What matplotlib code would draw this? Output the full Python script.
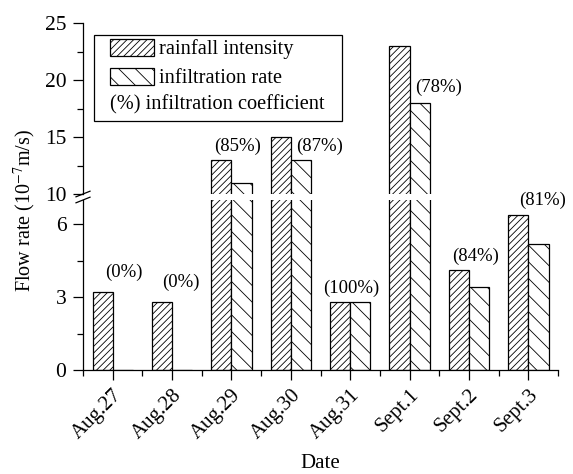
import matplotlib
matplotlib.use('Agg')
import matplotlib.pyplot as plt
from matplotlib.patches import Rectangle
from matplotlib.legend_handler import HandlerBase, HandlerPatch
from matplotlib.text import Text
import numpy as np

# ---------------- data ----------------
dates = ['Aug.27', 'Aug.28', 'Aug.29', 'Aug.30', 'Aug.31', 'Sept.1', 'Sept.2', 'Sept.3']
rainfall = [3.2, 2.8, 13.0, 15.0, 2.8, 23.0, 4.1, 6.4]
infiltration = [0.0, 0.0, 11.0, 13.0, 2.8, 18.0, 3.4, 5.2]
coef_labels = ['(0%)', '(0%)', '(85%)', '(87%)', '(100%)', '(78%)', '(84%)', '(81%)']
# which bar each coefficient label sits above (True -> infiltration bar)
label_on_infil = [False, False, False, True, False, True, False, False]
# label offsets in pixels (x, y) relative to the top-centre of that bar
label_dx = [21, 19, 16, 19, 11, 19, 17, 24]
label_dy = [20, 20, 13, 13, 14, 15, 14, 14]

plt.rcParams['font.family'] = ['Liberation Serif', 'DejaVu Serif']
plt.rcParams['mathtext.fontset'] = 'stix'
plt.rcParams['hatch.linewidth'] = 0.6
plt.rcParams['font.size'] = 15

W, H = 573, 474
fig = plt.figure(figsize=(W / 100, H / 100), dpi=100)
left_px, right_px = 83, 558
top_px, brk_top_px, brk_bot_px, bottom_px = 23, 194, 200, 370
ax_top = fig.add_axes([left_px / W, 1 - brk_top_px / H, (right_px - left_px) / W, (brk_top_px - top_px) / H])
ax_bot = fig.add_axes([left_px / W, 1 - bottom_px / H, (right_px - left_px) / W, (bottom_px - brk_bot_px) / H])

x = np.arange(len(dates))
w = 0.34
rain_hatch = '/////'
inf_hatch = '\\\\'
for ax in (ax_top, ax_bot):
    ax.bar(x - w / 2, rainfall, w, facecolor='white', edgecolor='black', hatch=rain_hatch, lw=0.9)
    ax.bar(x + w / 2, infiltration, w, facecolor='white', edgecolor='black', hatch=inf_hatch, lw=0.9)
    ax.set_xlim(-0.5, len(dates) - 0.5)
    ax.spines['top'].set_visible(False)
    ax.spines['right'].set_visible(False)
    ax.tick_params(axis='y', which='major', direction='out', length=7, width=0.9, pad=5, labelsize=15.5)
    ax.tick_params(axis='y', which='minor', direction='out', length=4, width=0.9)

ax_top.set_ylim(10, 25)
ax_top.set_yticks([10, 15, 20, 25])
ax_top.set_yticks([12.5, 17.5, 22.5], minor=True)
ax_top.spines['bottom'].set_visible(False)
ax_top.set_xticks([])
ax_top.set_xticks([], minor=True)

ax_bot.set_ylim(0, 7)
ax_bot.set_yticks([0, 3, 6])
ax_bot.set_yticks([1.5, 4.5], minor=True)
ax_bot.set_xticks(x)
ax_bot.set_xticks(np.arange(-0.5, len(dates), 1.0), minor=True)
ax_bot.set_xticklabels(dates, rotation=45, ha='right', rotation_mode='anchor', fontsize=15)
ax_bot.tick_params(axis='x', which='major', direction='out', length=7, width=0.9, pad=4)
ax_bot.tick_params(axis='x', which='minor', direction='out', length=4, width=0.9)
for ax in (ax_top, ax_bot):
    for s in ax.spines.values():
        s.set_linewidth(0.9)

# break marks on the y axis
def brk(ax, yfrac):
    bb = ax.get_position()
    dx = 7 / (bb.width * W)
    dy = 2.8 / (bb.height * H)
    ax.plot([-dx, dx], [yfrac - dy, yfrac + dy], transform=ax.transAxes,
            color='black', lw=0.9, clip_on=False)

brk(ax_top, 0.0)
brk(ax_bot, 1.0)

# coefficient labels
for i in range(len(dates)):
    yv = infiltration[i] if label_on_infil[i] else rainfall[i]
    xv = x[i] + w / 2 if label_on_infil[i] else x[i] - w / 2
    ax = ax_top if yv > 7 else ax_bot
    ax.annotate(coef_labels[i], xy=(xv, yv), xytext=(label_dx[i], label_dy[i]),
                textcoords='offset pixels', ha='center', va='center', fontsize=13.5,
                annotation_clip=False)

# legend
PW, PH = 44 * 0.72, 17 * 0.72

def patch_func(legend, orig_handle, xdescent, ydescent, width, height, fontsize):
    return Rectangle((-xdescent + width - PW, -ydescent + (height - PH) / 2), PW, PH)

class TextHandler(HandlerBase):
    def create_artists(self, legend, orig_handle, xdescent, ydescent, width, height, fontsize, trans):
        t = Text(-xdescent + width - PW, -ydescent + height / 2, '(%) infiltration coefficient',
                 fontsize=fontsize, ha='left', va='center')
        t.set_transform(trans)
        return [t]

h1 = Rectangle((0, 0), 1, 1, facecolor='white', edgecolor='black', hatch=rain_hatch, lw=0.9)
h2 = Rectangle((0, 0), 1, 1, facecolor='white', edgecolor='black', hatch=inf_hatch, lw=0.9)
h3 = Rectangle((0, 0), 1, 1)
leg = ax_top.legend([h1, h2, h3], ['rainfall intensity', 'infiltration rate', 'infiltration coefficient'],
                    handler_map={h1: HandlerPatch(patch_func=patch_func),
                                 h2: HandlerPatch(patch_func=patch_func),
                                 h3: TextHandler()},
                    loc='upper left', bbox_to_anchor=((94 - left_px) / (right_px - left_px),
                                                      (brk_top_px - 35) / (brk_top_px - top_px)),
                    borderaxespad=0, borderpad=0.2, handlelength=2.75, handleheight=0.85,
                    handletextpad=0.22, labelspacing=0.42, fontsize=14.7, fancybox=False,
                    edgecolor='black', framealpha=1)
leg.get_frame().set_linewidth(0.9)
leg.get_texts()[2].set_alpha(0)  # width placeholder; visible text drawn by handler

fig.text(25 / W, 1 - 210 / H, 'Flow rate (10$^{-7}$m/s)', rotation=90, ha='center', va='center', fontsize=14.5)
fig.text((left_px + right_px) / 2 / W, 1 - 464 / H, 'Date', ha='center', va='center', fontsize=15)

fig.savefig('out.png', dpi=100)
